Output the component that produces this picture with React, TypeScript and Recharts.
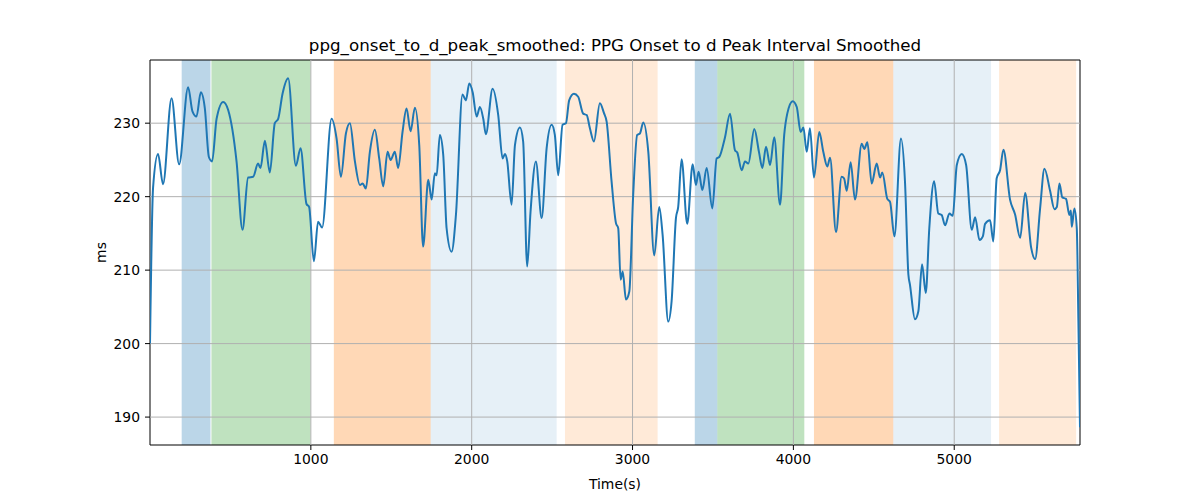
import { LineChart, Line, XAxis, YAxis, ReferenceArea, ReferenceLine } from "recharts";

document.body.style.margin = "0";

// sampled trace of the smoothed interval (time in s, value in ms)
const times = [
  0, 19, 50, 81, 134, 181, 237, 264, 289, 316, 341, 366, 386, 414, 455, 486, 538, 575, 610, 641,
  672, 687, 714, 745, 776, 797, 824, 859, 907, 936, 973, 989, 1019, 1045, 1070, 1129, 1160, 1187, 1218, 1243,
  1274, 1305, 1322, 1342, 1367, 1398, 1425, 1450, 1477, 1496, 1522, 1543, 1570, 1595, 1620, 1647, 1674, 1698, 1730, 1751,
  1771, 1782, 1802, 1823, 1844, 1875, 1902, 1943, 1964, 1985, 2006, 2031, 2051, 2072, 2088, 2130, 2165, 2192, 2207, 2221,
  2248, 2269, 2300, 2320, 2345, 2366, 2399, 2435, 2466, 2497, 2517, 2538, 2565, 2586, 2606, 2636, 2662, 2693, 2715, 2735,
  2760, 2797, 2822, 2839, 2870, 2897, 2911, 2926, 2939, 2959, 2980, 3004, 3029, 3046, 3067, 3098, 3135, 3166, 3187, 3222,
  3243, 3270, 3284, 3305, 3340, 3374, 3394, 3411, 3434, 3461, 3496, 3523, 3539, 3575, 3606, 3637, 3651, 3679, 3699, 3720,
  3757, 3786, 3807, 3830, 3855, 3881, 3917, 3943, 3962, 3996, 4021, 4045, 4062, 4083, 4103, 4128, 4161, 4186, 4211, 4228,
  4265, 4300, 4315, 4332, 4356, 4383, 4425, 4441, 4460, 4487, 4518, 4539, 4553, 4584, 4601, 4628, 4669, 4694, 4715, 4725,
  4756, 4777, 4800, 4823, 4845, 4875, 4901, 4922, 4943, 4970, 4991, 5016, 5047, 5074, 5109, 5130, 5157, 5178, 5192, 5223,
  5243, 5264, 5285, 5306, 5347, 5378, 5410, 5441, 5478, 5503, 5534, 5561, 5596, 5623, 5638, 5654, 5672, 5695, 5716, 5725,
  5731, 5747, 5762, 5772, 5782,
];
const values = [
  200, 221.2, 225.8, 221.7, 233.4, 224.4, 234.9, 231.6, 230.9, 234.2, 232, 225.4, 224.8, 230.6, 232.9, 231.8, 224.8, 215.5, 222.6, 222.7,
  224.5, 223.9, 227.6, 223.3, 230, 230.6, 234, 236.1, 224.2, 226.6, 219, 218.6, 211.2, 216.6, 215.8, 230.6, 227.9, 222.7, 228.6, 230,
  224.8, 221.6, 221.8, 221.1, 226.1, 229.1, 225.2, 221.4, 226.1, 225, 226.1, 223.9, 228.8, 232, 228.9, 232.1, 227, 213.2, 222.3, 219.6,
  223.2, 222.9, 228.4, 225.7, 215.7, 212.5, 217.5, 233.9, 233.1, 235.4, 234.2, 230.9, 232.2, 230.6, 228.5, 234.7, 231.1, 225.2, 225.8, 224.8,
  218.9, 227, 229.4, 227.5, 210.5, 218, 224.8, 217.1, 226.6, 229.8, 228.4, 222.9, 229.8, 230, 233.1, 234, 233.6, 231.3, 231.1, 229.3,
  227.5, 232.7, 231.4, 230.2, 222, 216.4, 215.7, 208.7, 209.8, 206, 207.1, 220.2, 228.4, 228.6, 230.1, 226.1, 212, 218.6, 214.8, 203,
  205.8, 217.1, 218.6, 225.1, 216.3, 224.4, 221.6, 223.4, 220.9, 223.9, 218.4, 225.2, 225.4, 228.1, 231.3, 226.3, 226, 223.6, 224.8, 224.5,
  229.2, 226.1, 223.9, 226.8, 224.3, 228.1, 218.9, 228.4, 231.3, 233, 232.2, 228.8, 229.4, 226.1, 229.3, 222.6, 228.8, 226.1, 224.1, 225.3,
  215.2, 222.7, 222.5, 220.8, 224.7, 219.6, 227.2, 226.5, 227.4, 221.8, 224.5, 222.6, 223.3, 219.7, 219.3, 214.6, 227.9, 222, 209.4, 208,
  203.3, 204.4, 210.8, 206.9, 215.7, 222.1, 217.7, 217.5, 216.1, 217.7, 217.4, 224.3, 225.8, 224.3, 215.5, 217.2, 214.1, 214.6, 216.3, 216.8,
  213.9, 222.5, 223.6, 226.4, 219.6, 217.6, 214.4, 220.5, 213.1, 211.5, 218.4, 223.8, 220.8, 218.3, 218.6, 221.8, 219.9, 219.7, 217.5, 218.1,
  215.9, 218.4, 215.7, 203, 188.6,
];

// shaded segments
const bandStart = [197, 382, 1143, 1745, 2580, 3387, 3527, 4128, 4621, 5279];
const bandEnd = [376, 998, 1745, 2528, 3156, 3527, 4068, 4621, 5229, 5758];
const bandKind = ["blue", "green", "orange", "lightblue", "lightorange", "blue", "green", "orange", "lightblue", "lightorange"];

const xTicks = [1000, 2000, 3000, 4000, 5000];
const yTicks = [190, 200, 210, 220, 230];
const xDomain = [0, 5782];
const yDomain = [186.2, 238.6];

const bandStyle: Record<string, { fill: string; opacity: number }> = {
  blue: { fill: "#1f77b4", opacity: 0.3 },
  green: { fill: "#2ca02c", opacity: 0.3 },
  orange: { fill: "#ff7f0e", opacity: 0.3 },
  lightblue: { fill: "#1f77b4", opacity: 0.11 },
  lightorange: { fill: "#ff7f0e", opacity: 0.16 },
};

const data = times.map((t, i) => ({ t, v: values[i] }));
const font = "DejaVu Sans, sans-serif";
const tick = { fill: "#000", fontSize: 13.9, fontFamily: font };

export default function App() {
  return (
    <div style={{ position: "relative", width: 1200, height: 500, background: "#fff" }}>
      <div
        style={{
          position: "absolute",
          left: 150,
          width: 930,
          top: 35,
          lineHeight: "20px",
          textAlign: "center",
          fontSize: 16.7,
          fontFamily: font,
          color: "#000",
        }}
      >
        ppg_onset_to_d_peak_smoothed: PPG Onset to d Peak Interval Smoothed
      </div>
      <LineChart width={1200} height={500} data={data} margin={{ top: 60, right: 120, bottom: 0, left: 0 }}>
        <XAxis
          type="number"
          dataKey="t"
          domain={xDomain}
          ticks={xTicks}
          allowDataOverflow
          height={55}
          axisLine={false}
          tickSize={5}
          tickMargin={4}
          tickLine={{ stroke: "#000" }}
          tick={tick}
          label={{ value: "Time(s)", position: "insideBottom", offset: 11, fill: "#000", fontSize: 13.9, fontFamily: font }}
        />
        <YAxis
          type="number"
          domain={yDomain}
          ticks={yTicks}
          allowDataOverflow
          width={150}
          axisLine={false}
          tickSize={5}
          tickMargin={5}
          tickLine={{ stroke: "#000" }}
          tick={tick}
          label={(props: any) => {
            const vb = props.viewBox;
            const cx = 101;
            const cy = vb.y + vb.height / 2;
            return (
              <text
                x={cx}
                y={cy}
                transform={`rotate(-90, ${cx}, ${cy})`}
                textAnchor="middle"
                dominantBaseline="central"
                fontSize={13.9}
                fontFamily={font}
                fill="#000"
              >
                ms
              </text>
            );
          }}
        />
        {bandStart.map((s, i) => (
          <ReferenceArea
            key={`band-${i}`}
            x1={s}
            x2={bandEnd[i]}
            fill={bandStyle[bandKind[i]].fill}
            fillOpacity={bandStyle[bandKind[i]].opacity}
            stroke="none"
            ifOverflow="hidden"
          />
        ))}
        {xTicks.map((x) => (
          <ReferenceLine key={`gx-${x}`} x={x} stroke="#b0b0b0" strokeWidth={1} />
        ))}
        {yTicks.map((y) => (
          <ReferenceLine key={`gy-${y}`} y={y} stroke="#b0b0b0" strokeWidth={1} />
        ))}
        <Line
          type="monotone"
          dataKey="v"
          stroke="#1f77b4"
          strokeWidth={2}
          dot={false}
          isAnimationActive={false}
        />
        <ReferenceArea
          x1={xDomain[0]}
          x2={xDomain[1]}
          y1={yDomain[0]}
          y2={yDomain[1]}
          fill="none"
          stroke="#000"
          strokeWidth={1}
        />
      </LineChart>
    </div>
  );
}
